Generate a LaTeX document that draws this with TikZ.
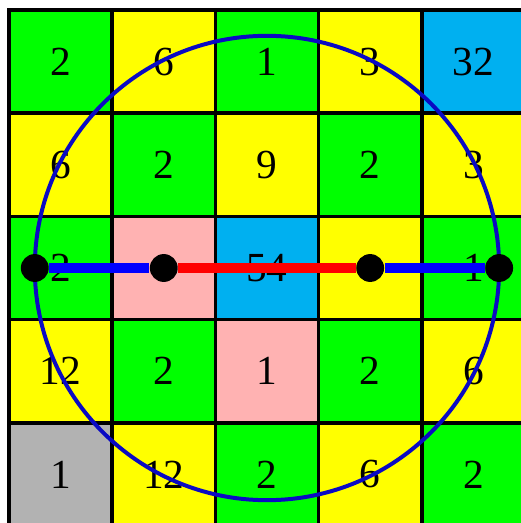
\documentclass[tikz,border=0pt]{standalone}
\usepackage{fontspec}
\setmainfont{Liberation Serif}
\usepackage{xcolor}

\definecolor{gn}{RGB}{0,255,0}
\definecolor{ye}{RGB}{255,255,0}
\definecolor{bl}{RGB}{0,176,240}
\definecolor{pk}{RGB}{255,178,178}
\definecolor{gy}{RGB}{178,178,178}
\definecolor{ringblue}{RGB}{10,10,195}

\begin{document}
\begin{tikzpicture}[
    cell/.style={draw, line width=1pt, minimum size=1cm, inner sep=0pt,
                 font=\fontsize{11.4}{13}\selectfont},
    ring/.style={draw=ringblue, line width=1.1pt},
    seg/.style={line width=2.9pt},
    dot/.style={circle, fill=black, minimum size=0.27cm, inner sep=0pt},
]
\useasboundingbox (-0.087,0.029) rectangle (4.952,5.097);

% Grid of cells
\foreach \r/\cells in {
    1/{gn/2,ye/6,gn/1,ye/3,bl/32},
    2/{ye/6,gn/2,ye/9,gn/2,ye/3},
    3/{gn/2,pk/{},bl/54,ye/{},gn/1},
    4/{ye/12,gn/2,pk/1,gn/2,ye/6},
    5/{gy/1,ye/12,gn/2,ye/6,gn/2}}
{
    \foreach \fc/\n [count=\c] in \cells {
        \node[cell, fill=\fc] (c\r\c) at (\c-0.5, 5.5-\r) {\n};
    }
}

% Circle
\draw[ring] (c33.center) circle (2.25cm);

% Points on the middle row
\node[dot] (d1) at (0.25, 2.5) {};
\node[dot] (d2) at (c32.center) {};
\node[dot] (d3) at (c34.center) {};
\node[dot] (d4) at (4.75, 2.5) {};

% Segments
\draw[seg, blue] (d1) -- (d2);
\draw[seg, red] (d2) -- (d3);
\draw[seg, blue] (d3) -- (d4);

\end{tikzpicture}
\end{document}
